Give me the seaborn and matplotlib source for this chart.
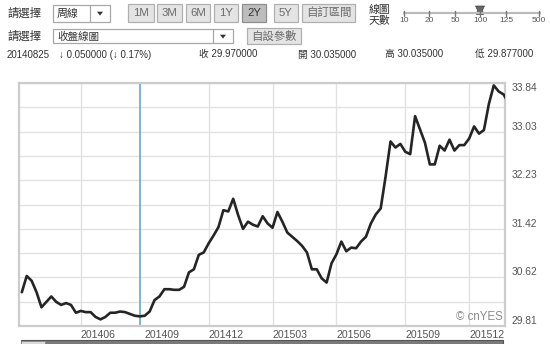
import numpy as np
import pandas as pd
import matplotlib
matplotlib.use("Agg")
import matplotlib.pyplot as plt
from matplotlib.patches import Rectangle, Polygon
import seaborn as sns

# ---------------- data ----------------
start_date = "2014-03-10"          # weekly closes
close = [30.37, 30.64, 30.56, 30.37, 30.12, 30.21, 30.30, 30.21, 30.16, 30.19,
         30.16, 30.03, 30.06, 30.04, 30.04, 29.96, 29.92, 29.96, 30.03, 30.03,
         30.05, 30.04, 30.01, 29.98, 29.97, 29.98, 30.05, 30.24, 30.30, 30.42,
         30.42, 30.41, 30.41, 30.46, 30.70, 30.75, 30.99, 31.03, 31.18, 31.31,
         31.45, 31.73, 31.71, 31.92, 31.65, 31.42, 31.54, 31.49, 31.46, 31.63,
         31.51, 31.44, 31.70, 31.54, 31.36, 31.29, 31.22, 31.14, 31.03, 30.75,
         30.75, 30.60, 30.53, 30.85, 31.00, 31.21, 31.05, 31.11, 31.10, 31.21,
         31.29, 31.51, 31.66, 31.76, 32.29, 32.87, 32.77, 32.83, 32.70, 32.66,
         33.29, 33.07, 32.85, 32.49, 32.49, 32.80, 32.72, 32.90, 32.72, 32.81,
         32.81, 32.92, 33.12, 33.00, 33.06, 33.49, 33.80, 33.70, 33.65, 33.51]
xtick_dates = ["2014-06-02", "2014-09-01", "2014-12-01", "2015-03-02",
               "2015-06-01", "2015-09-07", "2015-12-07"]
xtick_labels = ["201406", "201409", "201412", "201503", "201506", "201509", "201512"]
ytick_labels = ["29.81", "30.62", "31.42", "32.23", "33.03", "33.84"]
x_range = ["2014-03-06", "2016-01-27"]
cursor_date = "2014-08-25"

# header texts
info_row = ["20140825", "\u2193 0.050000 (\u2193 0.17%)", "收 29.970000",
            "開 30.035000", "高 30.035000", "低 29.877000"]
period_buttons = ["1M", "3M", "6M", "1Y", "2Y", "5Y", "自訂區間"]
selected_period = "2Y"
slider_labels = ["10", "20", "50", "100", "125", "500"]
selected_days = "100"

# ---------------- figure ----------------
sns.set_theme(style="white")
plt.rcParams["font.family"] = ["Liberation Sans", "Noto Sans CJK TC", "DejaVu Sans"]

W, H = 550, 344
fig = plt.figure(figsize=(W / 100, H / 100), dpi=100)
fig.patch.set_facecolor("white")

# overlay axes in pixel coordinates for the UI header
hdr = fig.add_axes([0, 0, 1, 1], zorder=0)
hdr.set_xlim(0, W)
hdr.set_ylim(H, 0)
hdr.axis("off")

ax = fig.add_axes([19 / W, 18 / H, 486 / W, 243 / H], zorder=1)
ax.set_facecolor("white")

df = pd.DataFrame({"date": pd.date_range(start_date, periods=len(close), freq="7D"),
                   "close": close})

ax.axvline(pd.Timestamp(cursor_date), color="#74aecb", lw=1.3, zorder=2)
sns.lineplot(data=df, x="date", y="close", ax=ax, color="#252525",
             linewidth=1.9, zorder=3)

# y axis
yt = [float(v) for v in ytick_labels]
ax.set_ylim(yt[0], yt[-1])
ax.set_yticks(yt)
ax.set_yticklabels(ytick_labels)
ax.set_yticks([(a + b) / 2 for a, b in zip(yt[:-1], yt[1:])], minor=True)
ax.yaxis.tick_right()
ax.tick_params(axis="y", which="both", length=0, pad=5, labelsize=7.4,
               labelcolor="#555555")
labels = ax.get_yticklabels()
for i, lab in enumerate(labels):
    lab.set_verticalalignment("top" if i == len(labels) - 1 else "bottom")
ax.set_ylabel("")

# x axis
ax.set_xlim(pd.Timestamp(x_range[0]), pd.Timestamp(x_range[1]))
ax.set_xticks([pd.Timestamp(d) for d in xtick_dates])
ax.set_xticklabels(xtick_labels)
for lab in ax.get_xticklabels():
    lab.set_horizontalalignment("left")
ax.tick_params(axis="x", length=0, pad=3, labelsize=7.6, labelcolor="#555555")
ax.set_xlabel("")

ax.grid(True, which="both", axis="y", color="#e2e2e2", lw=1.0)
ax.grid(True, which="major", axis="x", color="#e2e2e2", lw=1.0)
# the September gridline is covered by the cursor in the original
ax.xaxis.get_major_ticks()[1].gridline.set_visible(False)

for s in ax.spines.values():
    s.set_color("#cccccc")
    s.set_linewidth(1.6)

ax.text(0.996, 0.037, "© cnYES", transform=ax.transAxes, ha="right", va="center",
        color="#8a8a8a", fontsize=8.3, zorder=4)

# ---------------- header UI ----------------
txt_col = "#333333"


def box(x0, y0, x1, y1, fc="#ffffff", ec="#a8a8a8", lw=0.9):
    hdr.add_patch(Rectangle((x0, y0), x1 - x0, y1 - y0, facecolor=fc,
                            edgecolor=ec, lw=lw))


def arrow(cx, cy, s=3.0):
    hdr.add_patch(Polygon([[cx - s, cy - s * 0.6], [cx + s, cy - s * 0.6],
                           [cx, cy + s * 0.7]], closed=True, fc="#333333", ec="none"))


# row 1
hdr.text(7, 13.5, "請選擇", fontsize=8.2, color=txt_col, va="center", ha="left")
box(53, 5, 110, 22)
hdr.plot([90, 90], [5, 22], color="#a8a8a8", lw=0.9)
hdr.text(57, 13.5, "周線", fontsize=7.8, color=txt_col, va="center", ha="left")
arrow(100, 13.5)

btn_x = [(128, 154), (157, 182), (186, 210), (214, 238), (242, 266), (274, 298), (302, 355)]
for (x0, x1), lab in zip(btn_x, period_buttons):
    sel = lab == selected_period
    box(x0, 3.5, x1, 22, fc="#bdbdbd" if sel else "#e4e4e4",
        ec="#8f8f8f" if sel else "#b0b0b0")
    hdr.text((x0 + x1) / 2, 13.0, lab, fontsize=8.2,
             color="#333333" if sel else "#6a6a6a", ha="center", va="center")

hdr.text(369, 9.5, "線圖", fontsize=7.8, color=txt_col, va="center", ha="left")
hdr.text(369, 20, "天數", fontsize=7.8, color=txt_col, va="center", ha="left")
sl_x = [404, 429, 455, 480, 506, 539]
hdr.plot([403, 541], [13, 13], color="#bbbbbb", lw=1.6, solid_capstyle="butt")
for x, lab in zip(sl_x, slider_labels):
    hdr.plot([x, x], [10.5, 15.5], color="#777777", lw=1.0)
    hdr.text(x, 20.0, lab, fontsize=6.0, color="#555555", ha="center", va="center")
    if lab == selected_days:
        hdr.add_patch(Polygon([[x - 4.5, 6], [x + 4.5, 6], [x + 2.5, 10],
                               [x + 3.5, 14.5], [x - 3.5, 14.5], [x - 2.5, 10]],
                              closed=True, fc="#666666", ec="#444444", lw=0.5))

# row 2
hdr.text(7, 36.5, "請選擇", fontsize=8.2, color=txt_col, va="center", ha="left")
box(53, 29, 233, 43)
hdr.plot([213, 213], [29, 43], color="#a8a8a8", lw=0.9)
hdr.text(57, 36.5, "收盤線圖", fontsize=7.6, color=txt_col, va="center", ha="left")
arrow(223, 36.5)
box(247, 28, 301, 44, fc="#e4e4e4", ec="#b0b0b0")
hdr.text(274, 36.0, "自設參數", fontsize=8.2, color="#6a6a6a", ha="center", va="center")

# row 3
row3_x = [7, 59, 199, 298, 385, 475]
for x, t in zip(row3_x, info_row):
    hdr.text(x, 54.5, t, fontsize=7.0, color=txt_col, va="center", ha="left")

# scrollbar at the bottom
box(21, 340, 503, 346, fc="#7a7a7a", ec="#555555", lw=0.8)
box(21, 340.5, 45, 346, fc="#d9d9d9", ec="#8a8a8a", lw=0.6)

fig.savefig("out.png", dpi=100, facecolor="white")
